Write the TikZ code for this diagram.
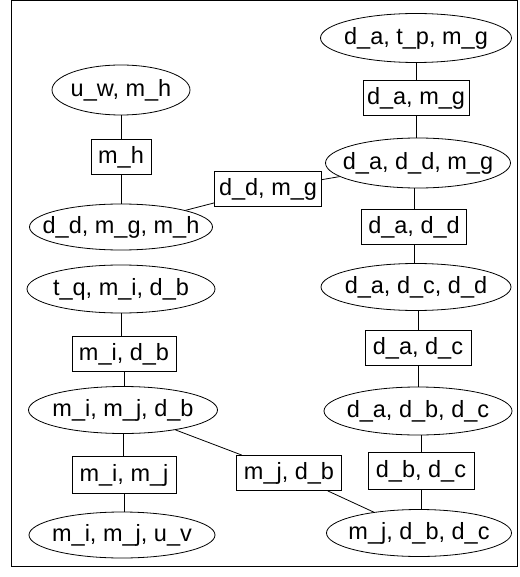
\documentclass[tikz,border=0pt]{standalone}
\usepackage{fontspec}
\setmainfont{Liberation Sans}
\usetikzlibrary{shapes.geometric}
\newcommand\zwtext[1]{\makebox[0pt]{#1}}
\begin{document}
\begin{tikzpicture}[x=1pt,y=-1pt,
  every node/.style={font=\fontsize{23.5}{26}\selectfont, inner sep=0pt},
  ell/.style={draw, ellipse, line width=0.8pt},
  box/.style={draw, rectangle, line width=0.8pt},
  edge/.style={draw, line width=0.8pt}]
\useasboundingbox (0,0) rectangle (519,577);
\draw[line width=1pt] (11,0.5) rectangle (517.5,566);
% left column
\node[ell, minimum width=138, minimum height=50] (e1) at (121,90) {\zwtext{u\_w, m\_h}};
\node[box, minimum width=60, minimum height=35] (b1) at (121,157) {m\_h};
\node[ell, minimum width=183, minimum height=46] (e2) at (121,227) {\zwtext{d\_d, m\_g, m\_h}};
\node[box, minimum width=107, minimum height=35] (b2) at (268,189) {d\_d, m\_g};
\node[ell, minimum width=188, minimum height=48] (e3) at (121,289) {\zwtext{t\_q, m\_i, d\_b}};
\node[box, minimum width=104, minimum height=35] (b3) at (124,354) {m\_i, d\_b};
\node[ell, minimum width=189, minimum height=47] (e4) at (123,410) {\zwtext{m\_i, m\_j, d\_b}};
\node[box, minimum width=104, minimum height=37] (b4) at (124,475) {m\_i, m\_j};
\node[ell, minimum width=186, minimum height=46] (e5) at (122,535) {\zwtext{m\_i, m\_j, u\_v}};
\node[box, minimum width=105, minimum height=35] (b5) at (289,473) {m\_j, d\_b};
% right column
\node[ell, minimum width=191, minimum height=49] (f1) at (416,38) {\zwtext{d\_a, t\_p, m\_g}};
\node[box, minimum width=106, minimum height=35] (c1) at (416,98) {d\_a, m\_g};
\node[ell, minimum width=185, minimum height=50] (f2) at (418,163) {\zwtext{d\_a, d\_d, m\_g}};
\node[box, minimum width=105, minimum height=35] (c2) at (414,227) {d\_a, d\_d};
\node[ell, minimum width=190, minimum height=47] (f3) at (416,287) {\zwtext{d\_a, d\_c, d\_d}};
\node[box, minimum width=106, minimum height=35] (c3) at (418,348) {d\_a, d\_c};
\node[ell, minimum width=188, minimum height=48] (f4) at (418,411) {\zwtext{d\_a, d\_b, d\_c}};
\node[box, minimum width=106, minimum height=37] (c4) at (421,471) {d\_b, d\_c};
\node[ell, minimum width=185, minimum height=47] (f5) at (419,533) {\zwtext{m\_j, d\_b, d\_c}};
% edges
\path[edge] (e1.south) -- (e1.south |- b1.north);
\path[edge] (b1.south) -- (b1.south |- e2.north);
\path[edge] (b2) -- (e2);
\path[edge] (b2) -- (f2);
\path[edge] (e3.south) -- (e3.south |- b3.north);
\path[edge] (b3.south) -- (b3.south |- e4.north);
\path[edge] (e4.south) -- (e4.south |- b4.north);
\path[edge] (b4.south) -- (b4.south |- e5.north);
\path[edge] (e4) -- (b5);
\path[edge] (b5) -- (f5);
\path[edge] (c1.north |- f1.south) -- (c1.north);
\path[edge] (c1.south) -- (c1.south |- f2.north);
\path[edge] (c2.north |- f2.south) -- (c2.north);
\path[edge] (c2.south) -- (c2.south |- f3.north);
\path[edge] (c3.north |- f3.south) -- (c3.north);
\path[edge] (c3.south) -- (c3.south |- f4.north);
\path[edge] (c4.north |- f4.south) -- (c4.north);
\path[edge] (c4.south) -- (c4.south |- f5.north);
\end{tikzpicture}
\end{document}
